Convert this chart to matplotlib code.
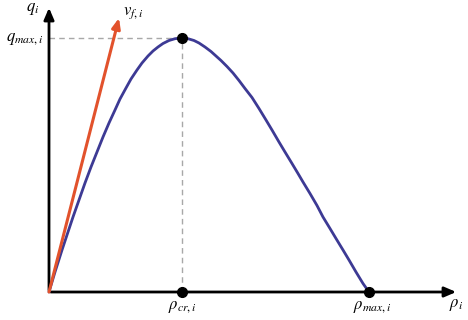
import matplotlib
matplotlib.use("Agg")
import matplotlib.pyplot as plt

plt.rcParams['mathtext.fontset'] = 'stix'

# flow-density curve (density, flow)
rho = [0, 6, 13, 19, 24, 30, 36, 42, 48, 54, 60, 66, 71, 77, 82, 88, 93,
       99, 104, 109, 114, 120, 126, 133, 139, 145, 150, 156, 162, 167, 172,
       178, 184, 190, 196, 203, 210, 217, 223, 230, 236, 243, 249, 254, 261,
       268, 274, 281, 287, 294, 300, 307, 314, 320]
q = [0, 20, 42, 60, 75, 92, 109, 125, 140, 155, 169, 182, 193, 204, 213,
     222, 229, 236, 241, 245, 248.5, 251.5, 253.3, 254, 253.3, 251.5, 249,
     245, 240.5, 236, 231.5, 225.5, 219, 211.5, 203.5, 194.5, 183.5, 172,
     162, 150, 140, 128.5, 118.5, 110, 98.5, 86.5, 75, 63.5, 53.5, 42, 32,
     20, 8.5, 0]

rho_cr = 133
q_max = 254
rho_max = 320
vf_tip = (70, 274)   # free-flow speed arrow end
x_end = 410          # x axis arrow end
y_end = 287          # y axis arrow end

fig = plt.figure(figsize=(4.68, 3.2), dpi=100)
ax = fig.add_axes([0, 0, 1, 1])
ax.set_xlim(-49, 419)
ax.set_ylim(-28, 292)
ax.axis('off')

# dashed guides
ax.plot([0, rho_cr], [q_max, q_max], color='#a8a8a8', lw=1, ls=(0, (4, 3)))
ax.plot([rho_cr, rho_cr], [0, q_max], color='#a8a8a8', lw=1, ls=(0, (4, 3)))

# axes
ax.annotate('', xy=(x_end, 0), xytext=(-1, 0),
            arrowprops=dict(arrowstyle='-|>,head_length=0.7,head_width=0.3',
                            color='black', lw=2))
ax.annotate('', xy=(0, y_end), xytext=(0, -1),
            arrowprops=dict(arrowstyle='-|>,head_length=0.7,head_width=0.3',
                            color='black', lw=2))

# fundamental diagram
ax.plot(rho, q, color='#3d3a94', lw=2, solid_capstyle='round',
        solid_joinstyle='round', zorder=3)

# free-flow speed
ax.annotate('', xy=vf_tip, xytext=(0, 0),
            arrowprops=dict(arrowstyle='-|>,head_length=0.6,head_width=0.25',
                            color='#e2522c', lw=2.2, shrinkA=0, shrinkB=0),
            zorder=4)

# points
ax.plot([rho_cr, rho_cr, rho_max], [q_max, 0, 0], 'o', color='black', ms=7,
        zorder=5)

# labels
ax.text(-16, 284, r'$q_i$', fontsize=12, ha='center', va='center')
ax.text(-6, q_max, r'$q_{max,i}$', fontsize=12, ha='right', va='center')
ax.text(74, 280, r'$v_{f,i}$', fontsize=12, ha='left', va='center')
ax.text(rho_cr, -14, r'$\rho_{cr,i}$', fontsize=12, ha='center', va='center')
ax.text(rho_max + 3, -14, r'$\rho_{max,i}$', fontsize=12, ha='center',
        va='center')
ax.text(407, -12, r'$\rho_i$', fontsize=12, ha='center', va='center')

fig.savefig('out.png', dpi=100)
